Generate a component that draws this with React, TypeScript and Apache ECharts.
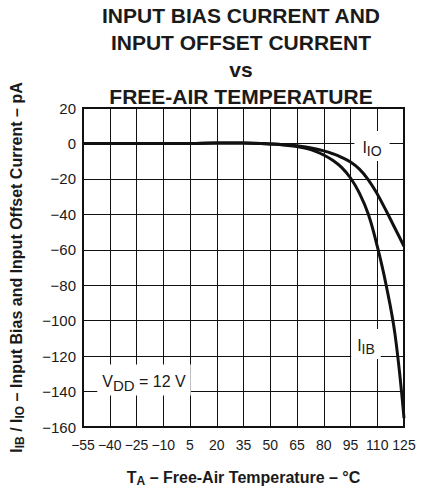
import React, { useEffect, useRef } from "react";
import * as echarts from "echarts";

const temps = [-55, -40, -25, -10, 5, 20, 35, 50, 55, 60, 65, 70, 75, 80, 85, 90, 95, 100, 105, 110, 115, 120, 125];
const ibValues = [0, 0, 0, 0, 0, 0.3, 0.3, -0.3, -0.6, -1.1, -1.8, -2.8, -4.3, -6.5, -9.5, -13.5, -19.5, -28, -40, -58, -80, -108, -155];
const ioValues = [0, 0, 0, 0, 0, 0.3, 0.3, -0.3, -0.5, -0.8, -1.3, -2, -3, -4.2, -5.8, -7.8, -10.5, -14.5, -20.5, -28.5, -38, -48, -58];

const xMin = -55;
const xMax = 125;
const xStep = 15;
const yMin = -160;
const yMax = 20;
const yStep = 20;

const titleLines = ["INPUT BIAS CURRENT AND", "INPUT OFFSET CURRENT", "vs", "FREE-AIR TEMPERATURE"];

const FONT = "'Liberation Sans', Arial, Helvetica, sans-serif";
const INK = "#1a1a1a";

export default function App() {
  const ref = useRef<HTMLDivElement>(null);
  useEffect(() => {
    if (!ref.current) return;
    const chart = echarts.init(ref.current, null, { renderer: "svg" });
    const subRich = {
      b: { fontSize: 16, fontWeight: "bold", fontFamily: FONT, color: INK },
      s: { fontSize: 12, fontWeight: "bold", fontFamily: FONT, color: INK, padding: [8, 0, 0, 0] },
    };
    const fmt = (v: number) => (v < 0 ? "\u2212" + Math.abs(v) : String(v));
    chart.setOption({
      animation: false,
      backgroundColor: "#fff",
      title: {
        text: titleLines.join("\n"),
        left: 236,
        textAlign: "center",
        top: -3,
        z: 20,
        textStyle: { fontSize: 21, fontWeight: "bold", fontFamily: FONT, color: INK, lineHeight: 27 },
      },
      grid: {
        left: 78,
        right: 18,
        top: 108,
        bottom: 57,
        show: true,
        borderColor: "#111",
        borderWidth: 2,
        backgroundColor: "transparent",
      },
      xAxis: {
        type: "value",
        min: xMin,
        max: xMax,
        interval: xStep,
        axisLine: { show: true, onZero: false, lineStyle: { color: "#111", width: 2 } },
        axisTick: { show: false },
        splitLine: { show: true, lineStyle: { color: "#111", width: 1 } },
        axisLabel: { fontSize: 14, fontFamily: FONT, color: INK, margin: 11, formatter: fmt },
        name: "{b|T}{s|A}{b| \u2013 Free-Air Temperature \u2013 \u00B0C}",
        nameLocation: "middle",
        nameGap: 40,
        nameTextStyle: { rich: subRich },
      },
      yAxis: {
        type: "value",
        min: yMin,
        max: yMax,
        interval: yStep,
        axisLine: { show: true, onZero: false, lineStyle: { color: "#111", width: 2 } },
        axisTick: { show: false },
        splitLine: { show: true, lineStyle: { color: "#111", width: 1 } },
        axisLabel: { fontSize: 15, fontFamily: FONT, color: INK, margin: 7, formatter: fmt },
        name: "{b|I}{s|IB}{b| / I}{s|IO}{b| \u2013 Input Bias and Input Offset Current \u2013 pA}",
        nameLocation: "middle",
        nameRotate: 90,
        nameGap: 57,
        nameTextStyle: { rich: subRich },
      },
      series: [
        {
          name: "IB",
          type: "line",
          data: temps.map((t, i) => [t, ibValues[i]]),
          smooth: 0.4,
          showSymbol: false,
          lineStyle: { color: "#111", width: 3 },
          z: 5,
        },
        {
          name: "IO",
          type: "line",
          data: temps.map((t, i) => [t, ioValues[i]]),
          smooth: 0.4,
          showSymbol: false,
          lineStyle: { color: "#111", width: 3 },
          z: 5,
        },
      ],
      graphic: [
        {
          type: "text",
          x: 372,
          y: 146,
          z: 10,
          style: {
            text: "{a|I}{s|IO}",
            align: "center",
            verticalAlign: "middle",
            backgroundColor: "#fff",
            padding: [5, 8, 3, 8],
            rich: {
              a: { fontSize: 16, fontFamily: FONT, fill: INK },
              s: { fontSize: 14, fontFamily: FONT, fill: INK, padding: [8, 0, 0, 0] },
            },
          },
        },
        {
          type: "text",
          x: 366,
          y: 344,
          z: 10,
          style: {
            text: "{a|I}{s|IB}",
            align: "center",
            verticalAlign: "middle",
            backgroundColor: "#fff",
            padding: [5, 6, 3, 6],
            rich: {
              a: { fontSize: 16, fontFamily: FONT, fill: INK },
              s: { fontSize: 14, fontFamily: FONT, fill: INK, padding: [8, 0, 0, 0] },
            },
          },
        },
        {
          type: "text",
          x: 144,
          y: 380,
          z: 10,
          style: {
            text: "{a|V}{s|DD}{a| = 12 V}",
            align: "center",
            verticalAlign: "middle",
            backgroundColor: "#fff",
            padding: [5, 5, 3, 5],
            rich: {
              a: { fontSize: 16, fontFamily: FONT, fill: INK },
              s: { fontSize: 15, fontFamily: FONT, fill: INK, padding: [8, 0, 0, 0] },
            },
          },
        },
      ],
    });
    return () => chart.dispose();
  }, []);
  return (
    <div
      ref={ref}
      style={{ position: "fixed", left: 0, top: 0, width: 422, height: 492, background: "#fff" }}
    />
  );
}
